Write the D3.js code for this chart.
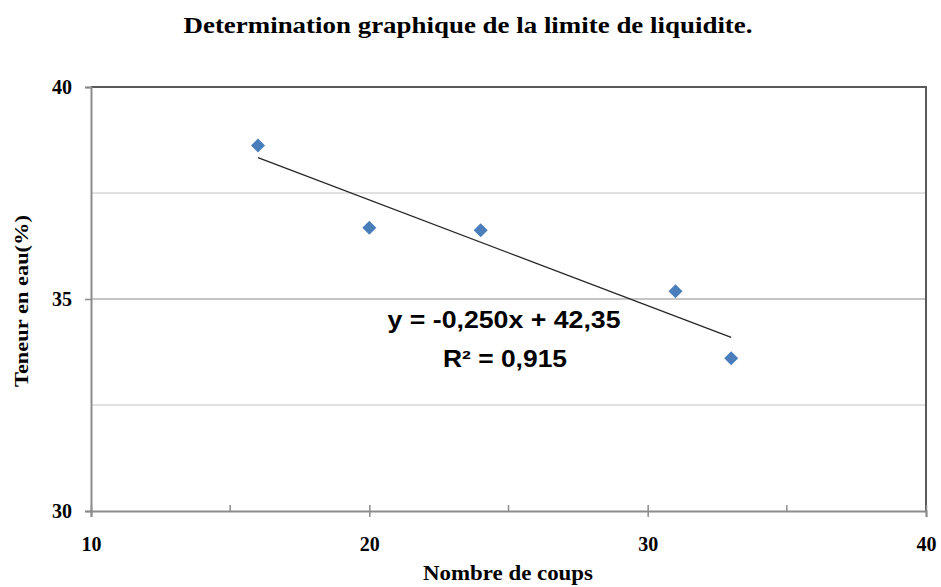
<!DOCTYPE html>
<html>
<head>
<meta charset="utf-8">
<script src="https://cdn.jsdelivr.net/npm/d3@7"></script>
<style>
  body { margin: 0; background: #fff; }
</style>
</head>
<body>
<div id="chart"></div>
<script>
// Limite de liquidite : teneur en eau vs nombre de coups

var coups = [16, 20, 24, 31, 33];
var teneur = [38.62, 36.68, 36.62, 35.18, 33.6];
var xTicks = [10, 20, 30, 40];
var xMinor = [15, 25, 35];
var yTicks = [30, 35, 40];
var yGrid = [32.5, 35, 37.5];
var eqLabel = "y = -0,250x + 42,35";
var r2Label = "R² = 0,915";

var width = 941, height = 587;
var margin = {top: 87, right: 15, bottom: 76, left: 91};
var innerWidth = width - margin.left - margin.right;
var innerHeight = height - margin.top - margin.bottom;
var serif = "Liberation Serif, Times New Roman, serif";

var svg = d3.select("#chart").append("svg")
    .attr("width", width)
    .attr("height", height);

var x = d3.scaleLinear().domain([10, 40]).range([0, innerWidth]);
var y = d3.scaleLinear().domain([30, 40]).range([innerHeight, 0]);

// Title
svg.append("text")
    .attr("x", 468)
    .attr("y", 33)
    .attr("text-anchor", "middle")
    .attr("font-family", serif)
    .attr("font-weight", "bold")
    .attr("font-size", 24)
    .attr("textLength", 569)
    .attr("lengthAdjust", "spacingAndGlyphs")
    .text("Determination graphique de la limite de liquidite.");

var g = svg.append("g")
    .attr("transform", "translate(" + margin.left + "," + margin.top + ")");

// gridlines
g.selectAll("line.grid")
    .data(yGrid)
    .enter().append("line")
    .attr("class", "grid")
    .attr("x1", 0).attr("x2", innerWidth)
    .attr("y1", function (d) { return y(d); })
    .attr("y2", function (d) { return y(d); })
    .attr("stroke", function (d) { return d === 35 ? "#8c8c8c" : "#c4c4c4"; })
    .attr("stroke-width", 1.2);

// top and right border
g.append("path")
    .attr("d", "M0," + y(40) + "H" + x(40) + "V" + y(30))
    .attr("fill", "none")
    .attr("stroke", "#595959")
    .attr("stroke-width", 2);

// x axis
var xAxis = g.append("g")
    .attr("transform", "translate(0," + innerHeight + ")")
    .call(d3.axisBottom(x).tickValues(xTicks).tickSize(6).tickPadding(20));
xAxis.select(".domain").attr("stroke", "#8c8c8c").attr("stroke-width", 2);
xAxis.selectAll(".tick line").attr("stroke", "#8c8c8c").attr("stroke-width", 1.5).attr("y1", -6);
xAxis.selectAll(".tick text")
    .attr("font-family", serif).attr("font-weight", "bold")
    .attr("font-size", 20).attr("fill", "#000");

g.selectAll("line.xminor")
    .data(xMinor)
    .enter().append("line")
    .attr("class", "xminor")
    .attr("x1", function (d) { return x(d); })
    .attr("x2", function (d) { return x(d); })
    .attr("y1", innerHeight - 6).attr("y2", innerHeight)
    .attr("stroke", "#8c8c8c").attr("stroke-width", 1.5);

// y axis
var yAxis = g.append("g")
    .call(d3.axisLeft(y).tickValues(yTicks).tickSize(6).tickPadding(13));
yAxis.select(".domain").attr("stroke", "#8c8c8c").attr("stroke-width", 2);
yAxis.selectAll(".tick line").attr("stroke", "#8c8c8c").attr("stroke-width", 1.5);
yAxis.selectAll(".tick text")
    .attr("font-family", serif).attr("font-weight", "bold")
    .attr("font-size", 20).attr("fill", "#000");

// trendline (least squares)
var mx = d3.mean(coups), my = d3.mean(teneur);
var sxy = d3.sum(coups, function (c, i) { return (c - mx) * (teneur[i] - my); });
var sxx = d3.sum(coups, function (c) { return (c - mx) * (c - mx); });
var slope = sxy / sxx, intercept = my - slope * mx;
var xr = d3.extent(coups);

g.append("line")
    .attr("x1", x(xr[0])).attr("y1", y(slope * xr[0] + intercept))
    .attr("x2", x(xr[1])).attr("y2", y(slope * xr[1] + intercept))
    .attr("stroke", "#262626")
    .attr("stroke-width", 1.3);

// points
g.selectAll("path.pt")
    .data(coups)
    .enter().append("path")
    .attr("class", "pt")
    .attr("d", "M0,-7L7,0L0,7L-7,0Z")
    .attr("transform", function (d, i) { return "translate(" + x(d) + "," + y(teneur[i]) + ")"; })
    .attr("fill", "#4a7ebb");

// equation label
svg.append("text")
    .attr("x", 504).attr("y", 328)
    .attr("text-anchor", "middle")
    .attr("font-family", "Liberation Sans, Arial, sans-serif")
    .attr("font-weight", "bold")
    .attr("font-size", 23)
    .attr("textLength", 233)
    .attr("lengthAdjust", "spacingAndGlyphs")
    .text(eqLabel);

svg.append("text")
    .attr("x", 505).attr("y", 367)
    .attr("text-anchor", "middle")
    .attr("font-family", "Liberation Sans, Arial, sans-serif")
    .attr("font-weight", "bold")
    .attr("font-size", 23)
    .attr("textLength", 124)
    .attr("lengthAdjust", "spacingAndGlyphs")
    .text(r2Label);

// axis titles
svg.append("text")
    .attr("x", 508)
    .attr("y", 580)
    .attr("text-anchor", "middle")
    .attr("font-family", serif)
    .attr("font-weight", "bold")
    .attr("font-size", 20)
    .attr("textLength", 170)
    .attr("lengthAdjust", "spacingAndGlyphs")
    .text("Nombre de coups");

svg.append("text")
    .attr("transform", "translate(28,301) rotate(-90)")
    .attr("text-anchor", "middle")
    .attr("font-family", serif)
    .attr("font-weight", "bold")
    .attr("font-size", 19)
    .attr("textLength", 172)
    .attr("lengthAdjust", "spacingAndGlyphs")
    .text("Teneur en eau(%)");
</script>
</body>
</html>
